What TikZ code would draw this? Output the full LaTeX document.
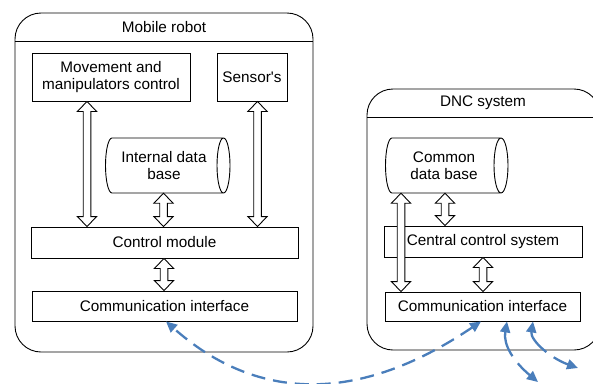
\documentclass[tikz,border=0pt]{standalone}
\usepackage{fontspec}
\setmainfont{Liberation Sans}
\usetikzlibrary{arrows.meta,calc}
\definecolor{linkblue}{RGB}{74,126,187}
\tikzset{
  box/.style={draw, line width=0.9pt, inner sep=0pt},
  outer/.style={draw, line width=0.9pt, rounded corners=26pt, inner sep=0pt},
  label/.style={inner sep=0pt, align=center},
  harrow/.style={draw, fill=white, line width=0.9pt, line join=miter},
  link/.style={draw=linkblue, line width=2.3pt, {Triangle[length=11pt,width=10pt]}-{Triangle[length=11pt,width=10pt]}},
  longdash/.style={dash pattern=on 14pt off 8pt},
  shortdash/.style={dash pattern=on 26pt off 9pt},
}
\newcommand{\vdarrow}[2]{%
  \path[harrow] let \p1=#1, \p2=#2 in
   (\x1,\y1) -- (\x1+9.6pt,\y1-10pt) -- (\x1+3.8pt,\y1-10pt) -- (\x1+3.8pt,\y2+10pt)
   -- (\x1+9.6pt,\y2+10pt) -- (\x1,\y2) -- (\x1-9.6pt,\y2+10pt) -- (\x1-3.8pt,\y2+10pt)
   -- (\x1-3.8pt,\y1-10pt) -- (\x1-9.6pt,\y1-10pt) -- cycle;}
\begin{document}
\begin{tikzpicture}[x=1pt,y=-1pt,font=\fontsize{15.3}{17.5}\selectfont]
\useasboundingbox (0,0) rectangle (593,383);
\clip (0,0) rectangle (593,383);

% ---------- Mobile robot ----------
\node[outer, minimum width=298, minimum height=339] (mr) at (164,182.5) {};
\draw[line width=0.9pt] (mr.west |- 0,41) -- (mr.east |- 0,41);
\node[label] (mrt) at (164,27) {Mobile robot};

\node[box, minimum width=158, minimum height=48, align=center] (mov) at (111,77) {Movement and\\manipulators control};
\node[box, minimum width=70, minimum height=48] (sens) at (252,77) {Sensor\textquotesingle s};

% internal data base (horizontal cylinder)
\node[label, minimum height=55] (idb) at (164,165.5) {Internal data\\base};
\draw[line width=0.9pt] (112,138) -- (223.5,138)
  (223.5,165.5) ellipse [x radius=6.5pt, y radius=27.5pt]
  (223.5,193) -- (112,193)
  (112,138) arc[start angle=90, end angle=270, x radius=6.5pt, y radius=27.5pt];

\node[box, minimum width=267, minimum height=31] (ctl) at (164.5,242.5) {Control module};
\node[box, minimum width=265, minimum height=30] (com) at (164.5,306) {Communication interface};

\vdarrow{([xshift=-24pt]mov.south)}{([xshift=-24pt]mov.south |- ctl.north)}
\vdarrow{([xshift=5.5pt]sens.south)}{([xshift=5.5pt]sens.south |- ctl.north)}
\vdarrow{([xshift=-0.5pt]idb.south)}{([xshift=-0.5pt]idb.south |- ctl.north)}
\vdarrow{([xshift=-0.5pt]ctl.south)}{([xshift=-0.5pt]ctl.south |- com.north)}

% ---------- DNC system ----------
\node[outer, minimum width=233, minimum height=261] (dnc) at (483.5,219.5) {};
\draw[line width=0.9pt] (dnc.west |- 0,117) -- (dnc.east |- 0,117);
\node[label] (dnct) at (483,103) {DNC system};

\node[label, minimum height=55] (cdb) at (444,165.5) {Common\\data base};
\draw[line width=0.9pt] (392,138) -- (501,138)
  (501,165.5) ellipse [x radius=7pt, y radius=27.5pt]
  (501,193) -- (392,193)
  (392,138) arc[start angle=90, end angle=270, x radius=6.5pt, y radius=27.5pt];

\node[box, minimum width=198, minimum height=31] (ccs) at (483,241.5) {Central control system};
\node[box, minimum width=195, minimum height=29] (dcom) at (482.5,306.5) {Communication interface};

\vdarrow{([xshift=1pt]cdb.south)}{([xshift=1pt]cdb.south |- ccs.north)}
\vdarrow{(ccs.south)}{(ccs.south |- dcom.north)}
\vdarrow{([xshift=-43pt]cdb.south)}{([xshift=-43pt]cdb.south |- dcom.north)}

% ---------- links ----------
\coordinate (endA) at (538,382);
\coordinate (endB) at (578,368);
\draw[link, longdash] ([xshift=-1.5pt]dcom.south) .. controls (350,410) and (250,396) .. ([xshift=1.5pt]com.south);
\draw[link, shortdash] ([xshift=24.5pt]dcom.south) .. controls (503,345) and (514,362) .. (endA);
\draw[link, shortdash] ([xshift=50.5pt]dcom.south) .. controls (530,340) and (550,358) .. (endB);
\end{tikzpicture}
\end{document}
